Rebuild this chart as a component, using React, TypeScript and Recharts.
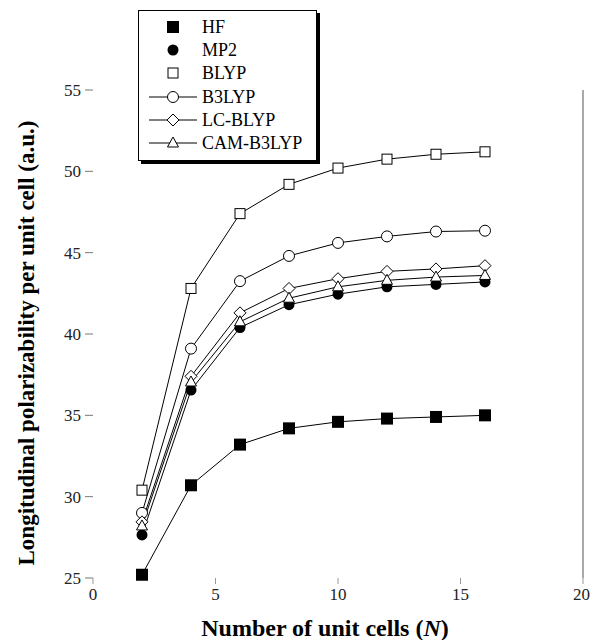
import React from 'react';
import { LineChart, Line, XAxis, YAxis, Label } from 'recharts';

const cells = [2, 4, 6, 8, 10, 12, 14, 16];
const hf = [25.2, 30.7, 33.2, 34.2, 34.6, 34.8, 34.9, 35.0];
const mp2 = [27.65, 36.55, 40.4, 41.8, 42.45, 42.9, 43.05, 43.2];
const blyp = [30.4, 42.8, 47.4, 49.2, 50.2, 50.75, 51.05, 51.2];
const b3lyp = [29.0, 39.1, 43.25, 44.8, 45.6, 46.0, 46.3, 46.35];
const lcblyp = [28.45, 37.4, 41.3, 42.8, 43.4, 43.85, 44.0, 44.2];
const camb3lyp = [28.2, 37.05, 40.75, 42.2, 42.9, 43.3, 43.5, 43.6];

const xTicks = [0, 5, 10, 15, 20];
const yTicks = [25, 30, 35, 40, 45, 50, 55];

const data = cells.map((n, i) => ({
  n,
  hf: hf[i],
  mp2: mp2[i],
  blyp: blyp[i],
  b3lyp: b3lyp[i],
  lcblyp: lcblyp[i],
  camb3lyp: camb3lyp[i],
}));

type Shape = 'fsquare' | 'fcircle' | 'square' | 'circle' | 'diamond' | 'triangle';

const SERIES: { key: string; name: string; shape: Shape; legendLine: boolean }[] = [
  { key: 'hf', name: 'HF', shape: 'fsquare', legendLine: false },
  { key: 'mp2', name: 'MP2', shape: 'fcircle', legendLine: false },
  { key: 'blyp', name: 'BLYP', shape: 'square', legendLine: false },
  { key: 'b3lyp', name: 'B3LYP', shape: 'circle', legendLine: true },
  { key: 'lcblyp', name: 'LC-BLYP', shape: 'diamond', legendLine: true },
  { key: 'camb3lyp', name: 'CAM-B3LYP', shape: 'triangle', legendLine: true },
];

const FONT = '"Liberation Serif", "Times New Roman", serif';

const Marker = ({ shape, cx, cy }: { shape: Shape; cx: number; cy: number }) => {
  switch (shape) {
    case 'fsquare':
      return <rect x={cx - 6} y={cy - 6} width={12} height={12} fill="#000" />;
    case 'fcircle':
      return <circle cx={cx} cy={cy} r={5.5} fill="#000" />;
    case 'square':
      return <rect x={cx - 5} y={cy - 5} width={10} height={10} fill="#fff" stroke="#000" strokeWidth={1} />;
    case 'circle':
      return <circle cx={cx} cy={cy} r={5.5} fill="#fff" stroke="#000" strokeWidth={1} />;
    case 'diamond':
      return (
        <polygon
          points={`${cx},${cy - 6} ${cx + 6},${cy} ${cx},${cy + 6} ${cx - 6},${cy}`}
          fill="#fff"
          stroke="#000"
          strokeWidth={1}
        />
      );
    default:
      return (
        <polygon
          points={`${cx},${cy - 6} ${cx + 5.5},${cy + 4} ${cx - 5.5},${cy + 4}`}
          fill="#fff"
          stroke="#000"
          strokeWidth={1}
        />
      );
  }
};

const makeDot = (shape: Shape) => (props: any) => {
  const { cx, cy, index } = props;
  if (cx == null || cy == null) return <g key={index} />;
  return (
    <g key={`${shape}-${index}`}>
      <Marker shape={shape} cx={cx} cy={cy} />
    </g>
  );
};

// legend box sits over the chart, top left, with a hard drop shadow
const LegendBox = () => (
  <div
    style={{
      position: 'absolute',
      left: 138,
      top: 10,
      width: 177,
      border: '1px solid #000',
      boxShadow: '3px 3px 0 #000',
      background: '#fff',
      padding: '4px 0 5px 0',
      fontFamily: FONT,
      fontSize: 18,
      color: '#000',
    }}
  >
    {SERIES.map((s) => (
      <div key={s.key} style={{ display: 'flex', alignItems: 'center', height: 23.3 }}>
        <svg width={62} height={20} style={{ flex: 'none' }}>
          {s.legendLine && <line x1={10} x2={58} y1={10} y2={10} stroke="#000" strokeWidth={1} />}
          <Marker shape={s.shape} cx={34} cy={10} />
        </svg>
        <span style={{ marginLeft: 1, lineHeight: '20px' }}>{s.name}</span>
      </div>
    ))}
  </div>
);

export default function App() {
  return (
    <div style={{ position: 'absolute', left: 0, top: 0, width: 590, height: 640, background: '#fff' }}>
      <LineChart width={590} height={640} data={data} margin={{ top: 90, right: 6, bottom: 0, left: 0 }}>
        <XAxis
          dataKey="n"
          type="number"
          domain={[0, 20]}
          ticks={xTicks}
          axisLine={false}
          tickLine={{ stroke: '#999' }}
          tickSize={6}
          tickMargin={4}
          height={62}
          tick={{ fill: '#222', fontSize: 17, fontFamily: FONT }}
        >
          <Label
            content={({ viewBox }: any) => (
              <text
                x={viewBox.x + viewBox.width / 2 - 13}
                y={viewBox.y + 58}
                textAnchor="middle"
                fontFamily={FONT}
                fontWeight="bold"
                fontSize={24}
                fill="#000"
              >
                Number of unit cells (<tspan fontStyle="italic">N</tspan>)
              </text>
            )}
          />
        </XAxis>
        <YAxis
          type="number"
          domain={[25, 55]}
          ticks={yTicks}
          axisLine={false}
          tickLine={{ stroke: '#777' }}
          tickSize={8}
          tickMargin={4}
          width={93}
          tick={{ fill: '#222', fontSize: 17, fontFamily: FONT }}
        >
          <Label
            content={({ viewBox }: any) => {
              const cx = viewBox.x + 26;
              const cy = viewBox.y + viewBox.height / 2 + 9;
              return (
                <text
                  x={cx}
                  y={cy}
                  transform={`rotate(-90, ${cx}, ${cy})`}
                  textAnchor="middle"
                  dominantBaseline="central"
                  fontFamily={FONT}
                  fontWeight="bold"
                  fontSize={23}
                  fill="#000"
                >
                  Longitudinal polarizability per unit cell (a.u.)
                </text>
              );
            }}
          />
        </YAxis>
        <YAxis
          yAxisId="r"
          orientation="right"
          type="number"
          domain={[25, 55]}
          width={1}
          tick={false}
          tickLine={false}
          axisLine={{ stroke: '#555' }}
        />
        {SERIES.map((s) => (
          <Line
            key={s.key}
            dataKey={s.key}
            name={s.name}
            stroke="#000"
            strokeWidth={1}
            dot={makeDot(s.shape)}
            activeDot={false}
            isAnimationActive={false}
          />
        ))}
      </LineChart>
      <LegendBox />
    </div>
  );
}
